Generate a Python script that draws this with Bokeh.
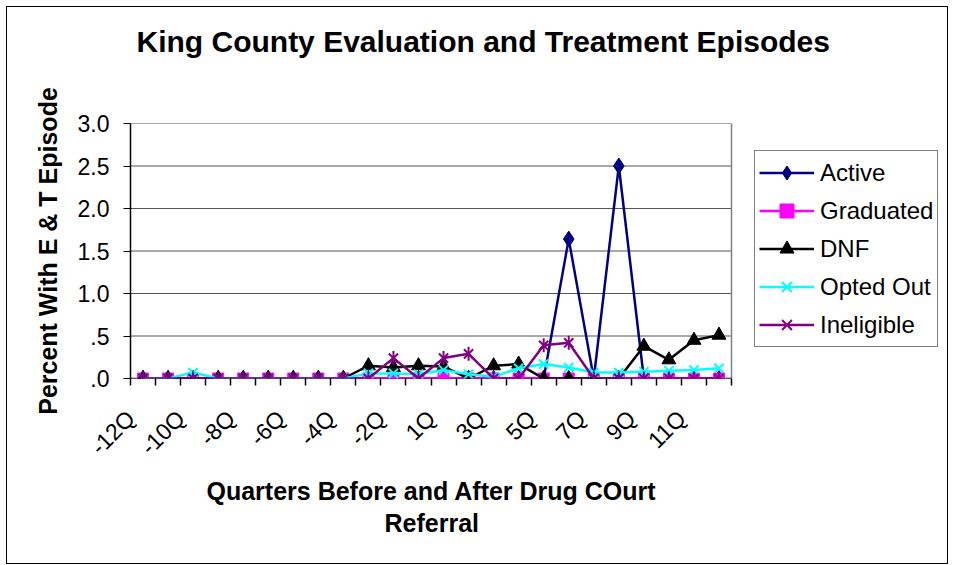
import math
from bokeh.plotting import figure
from bokeh.models import FixedTicker, Legend, LegendItem, Range1d, LinearAxis, Title, InlineStyleSheet
from bokeh.embed import file_html
from bokeh.resources import INLINE

# ---- data ----
quarters = ["-12Q", "-11Q", "-10Q", "-9Q", "-8Q", "-7Q", "-6Q", "-5Q", "-4Q", "-3Q", "-2Q", "-1Q",
            "1Q", "2Q", "3Q", "4Q", "5Q", "6Q", "7Q", "8Q", "9Q", "10Q", "11Q", "12Q"]
labeled_quarters = ["-12Q", "-10Q", "-8Q", "-6Q", "-4Q", "-2Q", "1Q", "3Q", "5Q", "7Q", "9Q", "11Q"]

active =     [0, 0, 0, 0, 0, 0, 0, 0, 0, 0, 0, 0, 0, 0, 0, 0, 0, 1.64, 0, 2.50, 0, 0, 0, 0]
graduated =  [0, 0, 0, 0, 0, 0, 0, 0, 0, 0, 0, 0, 0, 0, 0, 0, 0, 0, 0, 0, 0, 0, 0, 0]
dnf =        [0, 0, 0, 0, 0, 0, 0, 0, 0, 0.15, 0.13, 0.15, 0.14, 0, 0.15, 0.17, 0, 0, 0, 0, 0.38, 0.22, 0.45, 0.51]
opted_out =  [0, 0, 0.07, 0, 0, 0, 0, 0, 0, 0.06, 0.06, 0.05, 0.10, 0.05, 0.02, 0.12, 0.17, 0.13, 0.07, 0.07, 0.08, 0.09, 0.10, 0.12]
ineligible = [0, 0, 0, 0, 0, 0, 0, 0, 0, 0, 0.24, 0, 0.24, 0.29, 0, 0, 0.39, 0.42, 0, 0, 0, 0, 0, 0]

y_ticks = [0, 0.5, 1.0, 1.5, 2.0, 2.5, 3.0]
y_tick_labels = [".0", ".5", "1.0", "1.5", "2.0", "2.5", "3.0"]

chart_title = "King County Evaluation and Treatment Episodes"
x_title_lines = ["Quarters Before and After Drug COurt", "Referral"]
y_title = "Percent With E & T Episode"

FONT = "Liberation Sans"
LABEL_SHIFT = -0.49   # rotated labels sit slightly left of their category (style only)

# layout (pixels)
W, H = 952, 564
B_LEFT, B_RIGHT, B_TOP, B_BOTTOM = 130, 5, 123, 186
FRAME_W = W - B_LEFT - B_RIGHT
DATA_W = 601                      # width of the plotting area proper; the legend sits to its right

n = len(quarters)
xs = list(range(n))
x_lo, x_hi = -0.5, n - 0.5
x_end = x_lo + n * FRAME_W / DATA_W

p = figure(width=W, height=H, output_backend="svg", toolbar_location=None, title=None,
           x_range=Range1d(x_lo, x_end), y_range=Range1d(0, 3.0),
           min_border_left=B_LEFT, min_border_right=B_RIGHT, min_border_top=B_TOP,
           min_border_bottom=B_BOTTOM)

# thin black frame around the whole chart, as in the reference
p.stylesheets = [InlineStyleSheet(css="""
:host { position: relative; }
:host::after { content: ""; position: absolute; left: 6px; top: 6px; right: 4px; bottom: 0px;
               border: 1px solid black; pointer-events: none; z-index: 100; }
""")]

p.outline_line_color = None
p.xgrid.visible = False
p.ygrid.visible = False

xa = p.below[0]
ya = p.left[0]

# invisible spacer between the frame and the title (keeps the title high, as in the reference)
spacer = LinearAxis(ticker=FixedTicker(ticks=[x_lo]), axis_line_color=None, major_tick_line_color=None,
                    minor_tick_line_color=None, major_tick_out=61, major_tick_in=0,
                    major_label_standoff=0, major_label_overrides={x_lo: ""})
p.add_layout(spacer, "above")

p.add_layout(Title(text=chart_title, text_font=FONT, text_font_size="30px", text_font_style="bold",
                   align="left", offset=6, text_color="black", standoff=10), "above")

# horizontal grid lines, right edge and baseline of the plotting area
p.segment(x0=[x_lo] * len(y_ticks), y0=y_ticks, x1=[x_hi] * len(y_ticks), y1=y_ticks,
          line_color="#555555", line_width=1, level="underlay")
p.segment(x0=[x_hi], y0=[y_ticks[0]], x1=[x_hi], y1=[y_ticks[-1]],
          line_color="#808080", line_width=1.5, level="underlay")
p.segment(x0=[x_lo], y0=[y_ticks[0]], x1=[x_hi], y1=[y_ticks[0]],
          line_color="black", line_width=1.5, level="underlay")

# y axis
ya.ticker = FixedTicker(ticks=y_ticks)
ya.major_label_overrides = {t: l for t, l in zip(y_ticks, y_tick_labels)}
ya.minor_tick_line_color = None
ya.major_tick_out = 7
ya.major_tick_in = 0
ya.major_label_standoff = 14
ya.axis_line_color = "black"
ya.axis_line_width = 1.5
ya.major_tick_line_color = "black"
ya.major_label_text_font = FONT
ya.major_label_text_font_size = "23px"
ya.major_label_text_color = "black"
ya.axis_label = y_title
ya.axis_label_text_font = FONT
ya.axis_label_text_font_size = "25px"
ya.axis_label_text_font_style = "bold"
ya.axis_label_text_color = "black"
ya.axis_label_standoff = 13

# x axis: labels at every other quarter, ticks between categories
label_pos = [quarters.index(q) + LABEL_SHIFT for q in labeled_quarters]
xa.ticker = FixedTicker(ticks=label_pos, minor_ticks=[i - 0.5 for i in range(n + 1)])
xa.major_label_overrides = {pos: q for pos, q in zip(label_pos, labeled_quarters)}
xa.major_tick_out = 0
xa.major_tick_in = 0
xa.major_tick_line_color = None
xa.minor_tick_out = 7
xa.minor_tick_in = 0
xa.minor_tick_line_color = "black"
xa.minor_tick_line_width = 1.5
xa.axis_line_color = None
xa.major_label_orientation = math.pi / 4
xa.major_label_standoff = 29
xa.major_label_text_font = FONT
xa.major_label_text_font_size = "23px"
xa.major_label_text_color = "black"

# x-axis title (two lines), centred under the plotting area
p.add_layout(Title(text=x_title_lines[0], text_font=FONT, text_font_size="25px", text_font_style="bold",
                   align="left", offset=76, text_color="black", standoff=4), "below")
p.add_layout(Title(text=x_title_lines[1], text_font=FONT, text_font_size="25px", text_font_style="bold",
                   align="left", offset=254, text_color="black", standoff=0), "below")

LW = 2.5
items = []

# Active
r1 = p.line(xs, active, line_color="#000080", line_width=LW)
r1m = p.scatter(xs, active, marker="diamond", size=16, fill_color="#000080", line_color="#000080")
items.append(LegendItem(label="Active", renderers=[r1, r1m]))

# Graduated
r2 = p.line(xs, graduated, line_color="#FF00FF", line_width=LW)
r2m = p.scatter(xs, graduated, marker="square", size=11, fill_color="#FF00FF", line_color="#FF00FF")
items.append(LegendItem(label="Graduated", renderers=[r2, r2m]))

# DNF
r3 = p.line(xs, dnf, line_color="black", line_width=LW)
r3m = p.scatter(xs, dnf, marker="triangle", size=14, fill_color="black", line_color="black")
items.append(LegendItem(label="DNF", renderers=[r3, r3m]))

# Opted Out
r4 = p.line(xs, opted_out, line_color="#00FFFF", line_width=LW)
r4m = p.scatter(xs, opted_out, marker="x", size=13, line_color="#00FFFF", line_width=2)
items.append(LegendItem(label="Opted Out", renderers=[r4, r4m]))

# Ineligible
r5 = p.line(xs, ineligible, line_color="#800080", line_width=LW)
r5m = p.scatter(xs, ineligible, marker="x", size=13, line_color="#800080", line_width=2)
r5d = p.scatter(xs, ineligible, marker="dash", angle=math.pi / 2, size=14, line_color="#800080", line_width=2)
items.append(LegendItem(label="Ineligible", renderers=[r5, r5m, r5d]))

legend = Legend(items=items, location=(DATA_W + 23, 31), margin=0, padding=4, spacing=3,
                glyph_width=55, glyph_height=35, label_height=35, label_standoff=6,
                label_text_font=FONT, label_text_font_size="24px", label_text_color="black",
                border_line_color="black", border_line_width=1, background_fill_color="white",
                background_fill_alpha=1.0)
p.add_layout(legend)

open("out.html", "w").write(file_html(p, INLINE))
